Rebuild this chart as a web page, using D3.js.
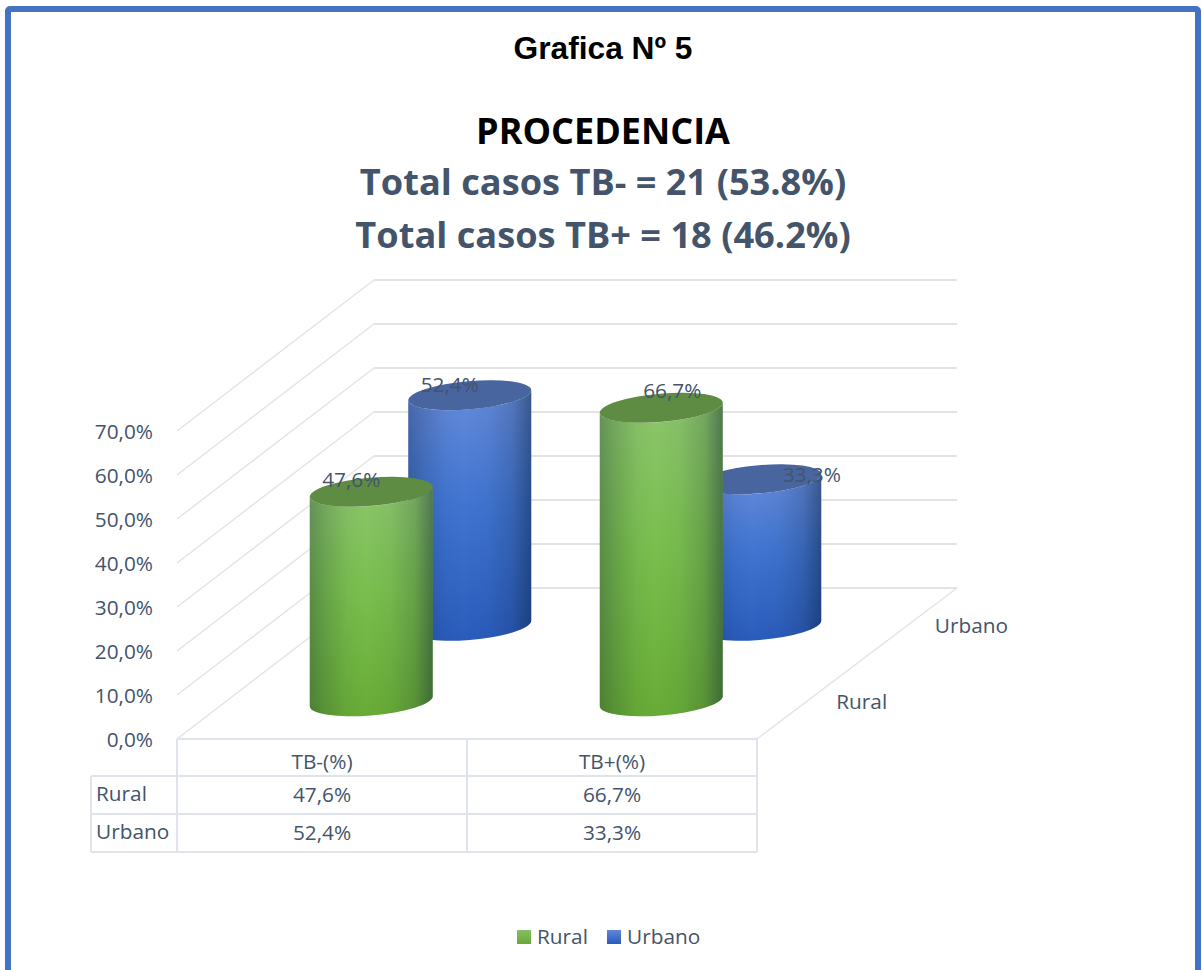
<!DOCTYPE html>
<html><head><meta charset="utf-8">
<script src="https://cdnjs.cloudflare.com/ajax/libs/d3/7.8.5/d3.min.js"></script>
<style>html,body{margin:0;padding:0;background:#fff;overflow:hidden}svg{display:block}</style>
</head><body><svg id="c" width="1202" height="970"></svg>
<script>
const categories = ["TB-(%)", "TB+(%)"];
const seriesNames = ["Rural", "Urbano"];
const rural = [47.6, 66.7];
const urbano = [52.4, 33.3];
const yTicks = [0, 10, 20, 30, 40, 50, 60, 70];
const titleLines = ["PROCEDENCIA", "Total casos TB- = 21 (53.8%)", "Total casos TB+ = 18 (46.2%)"];
const heading = "Grafica Nº 5";

const svg = d3.select("#c");
const TXT = "#44546A", GRID = "#E3E3E6", TAB = "#DFE3EB";
const FONT = "'Open Sans', Lato, sans-serif";
const LABEL = 20.8;
const fmt = d3.formatLocale({decimal: ",", thousands: ".", grouping: [3], currency: ["", ""]}).format(".1f");
const pct = v => fmt(v) + "%";

const x = d3.scaleBand(categories, [177, 757]);
const depth = d3.scaleBand(seriesNames, [0, 1]);
const y = d3.scaleLinear([0, 70], [739, 431]);
const DX = 197, DY = -151;
const project = (px, py, d) => [px + DX * d, py + DY * d];

// frame
svg.append("rect").attr("x", 8).attr("y", 9).attr("width", 1190).attr("height", 975).attr("rx", 2)
  .attr("fill", "#fff").attr("stroke", "#4472C4").attr("stroke-width", 6);

// gradients
const defs = svg.append("defs");
function vGrad(id, stops) {
  const g = defs.append("linearGradient").attr("id", id).attr("x1", 0).attr("x2", 0).attr("y1", 0).attr("y2", 1);
  stops.forEach(s => g.append("stop").attr("offset", s[0]).attr("stop-color", s[1]));
}
vGrad("gGreen", [[0, "#8CC66C"], [0.45, "#7ABF4E"], [1, "#68AC36"]]);
vGrad("gBlue", [[0, "#668BDB"], [0.45, "#4075D2"], [1, "#2A5CBC"]]);
const sh = defs.append("linearGradient").attr("id", "shade").attr("x1", 0).attr("x2", 1).attr("y1", 0).attr("y2", 0);
[[0, .30], [.12, .18], [.3, .04], [.45, 0], [.65, .04], [.85, .18], [.95, .36], [1, .45]].forEach(s =>
  sh.append("stop").attr("offset", s[0]).attr("stop-color", "#0a1a30").attr("stop-opacity", s[1]));

// gridlines: side wall + back wall
const grid = svg.append("g").attr("stroke", GRID).attr("fill", "none");
yTicks.forEach(t => {
  const a = [x.range()[0], y(t)], b = project(a[0], a[1], 1), c = project(x.range()[1] + 3, y(t), 1);
  grid.append("path").attr("stroke-width", 1.4).attr("d", d3.line()([a, b]));
  grid.append("path").attr("stroke-width", 2).attr("d", d3.line()([b, c]));
});
// floor edges
const fr = [x.range()[1], y(0)];
grid.append("path").attr("stroke-width", 1.4).attr("d", d3.line()([fr, project(fr[0] + 3, fr[1], 1)]));

// y axis labels
const yAxis = d3.axisLeft(y).tickValues(yTicks).tickFormat(pct).tickSize(0).tickPadding(24);
const ag = svg.append("g").attr("transform", `translate(${x.range()[0]},1)`).call(yAxis);
ag.select(".domain").remove();
ag.selectAll("text").attr("font-family", FONT).attr("font-size", LABEL).attr("fill", TXT);

// depth axis labels
seriesNames.forEach(s => {
  const p = project(fr[0], fr[1], depth(s) + depth.bandwidth() / 2);
  svg.append("text").attr("x", p[0] + 30).attr("y", p[1] + 7.5).text(s)
    .attr("font-family", FONT).attr("font-size", LABEL).attr("fill", TXT);
});

// cylinders
const A = 61.7, B = 14.1, TH = -4.9 * Math.PI / 180;
const c0 = Math.cos(TH), s0 = Math.sin(TH);
const t0 = Math.atan2(-B * s0, A * c0);
const edgeX = A * Math.cos(t0) * c0 - B * Math.sin(t0) * s0;
const edgeY = A * Math.cos(t0) * s0 + B * Math.sin(t0) * c0;
const rot = TH * 180 / Math.PI;

function cylinder(name, cat, val, gradId, topCol) {
  const d = depth(name) + depth.bandwidth() / 2;
  const base = project(x(cat) + x.bandwidth() / 2, y(0), d);
  const top = project(x(cat) + x.bandwidth() / 2, y(val), d);
  const g = svg.append("g");
  const side = `M${base[0] - edgeX},${top[1] - edgeY}L${base[0] - edgeX},${base[1] - edgeY}` +
    `A${A},${B} ${rot} 0 0 ${base[0] + edgeX},${base[1] + edgeY}` +
    `L${base[0] + edgeX},${top[1] + edgeY}` +
    `A${A},${B} ${rot} 0 1 ${base[0] - edgeX},${top[1] - edgeY}Z`;
  g.append("path").attr("d", side).attr("fill", `url(#${gradId})`);
  g.append("path").attr("d", side).attr("fill", "url(#shade)");
  g.append("ellipse").attr("rx", A).attr("ry", B).attr("fill", topCol)
    .attr("transform", `translate(${top[0]},${top[1]}) rotate(${rot})`);
}
categories.forEach((c, i) => cylinder("Urbano", c, urbano[i], "gBlue", "#48659F"));
categories.forEach((c, i) => cylinder("Rural", c, rural[i], "gGreen", "#5F8C43"));

// value labels (hand-placed offsets from the cylinder's top centre, as in the source)
const labelShift = {Rural: [[-20, -4.8], [11, -9.8]], Urbano: [[-20, -3.2], [52, 2.8]]};
[["Rural", rural], ["Urbano", urbano]].forEach(([n, vals]) => vals.forEach((v, i) => {
  const c = categories[i], d = depth(n) + depth.bandwidth() / 2;
  const p = project(x(c) + x.bandwidth() / 2, y(v), d);
  svg.append("text").attr("x", p[0] + labelShift[n][i][0]).attr("y", p[1] + labelShift[n][i][1])
    .attr("text-anchor", "middle").text(pct(v))
    .attr("font-family", FONT).attr("font-size", LABEL).attr("fill", TXT);
}));

// data table
const tab = svg.append("g").attr("stroke", TAB).attr("stroke-width", 2).attr("fill", "none");
const [L, R] = x.range(), TL = 91;
const hl = (a, b, yy) => tab.append("path").attr("d", d3.line()([[a, yy], [b, yy]]));
const vl = (xx, a, b) => tab.append("path").attr("d", d3.line()([[xx, a], [xx, b]]));
hl(L, R, 739); hl(TL, R, 776); hl(TL, R, 814); hl(TL, R, 852);
vl(TL, 776, 852); vl(L, 739, 852); vl(x(categories[1]), 739, 852); vl(R, 739, 852);
const tt = (xx, yy, s, anchor) => svg.append("text").attr("x", xx).attr("y", yy).text(s)
  .attr("text-anchor", anchor || "middle").attr("font-family", FONT).attr("font-size", LABEL).attr("fill", TXT);
categories.forEach((c, i) => {
  const cx = x(c) + x.bandwidth() / 2;
  tt(cx, 769, c);
  tt(cx, 802, pct(rural[i]));
  tt(cx, 840, pct(urbano[i]));
});
tt(96, 801, seriesNames[0], "start");
tt(96, 839, seriesNames[1], "start");

// titles
svg.append("text").attr("x", 603).attr("y", 59).attr("text-anchor", "middle").text(heading)
  .attr("font-family", "'Liberation Sans', Arial, sans-serif").attr("font-weight", 700).attr("font-size", 31.7).attr("fill", "#000");
[[143.5, "#000", 36], [195, TXT, 36.2], [247.5, TXT, 36.2]].forEach((s, i) => {
  svg.append("text").attr("x", 603).attr("y", s[0]).attr("text-anchor", "middle").text(titleLines[i])
    .attr("font-family", FONT).attr("font-weight", 700).attr("font-size", s[2]).attr("fill", s[1]);
});

// legend
const lg = ["gLegG", "gLegB"];
vGrad("gLegG", [[0, "#86BF62"], [1, "#68A83A"]]);
vGrad("gLegB", [[0, "#5F86D8"], [1, "#2A5CBC"]]);
const lx = d3.scaleOrdinal(seriesNames, [517, 607]);
seriesNames.forEach((s, i) => {
  svg.append("rect").attr("x", lx(s)).attr("y", 930).attr("width", 14).attr("height", 14).attr("fill", `url(#${lg[i]})`);
  svg.append("text").attr("x", lx(s) + 20).attr("y", 943.5).text(s)
    .attr("font-family", FONT).attr("font-size", LABEL).attr("fill", TXT);
});
</script></body></html>
